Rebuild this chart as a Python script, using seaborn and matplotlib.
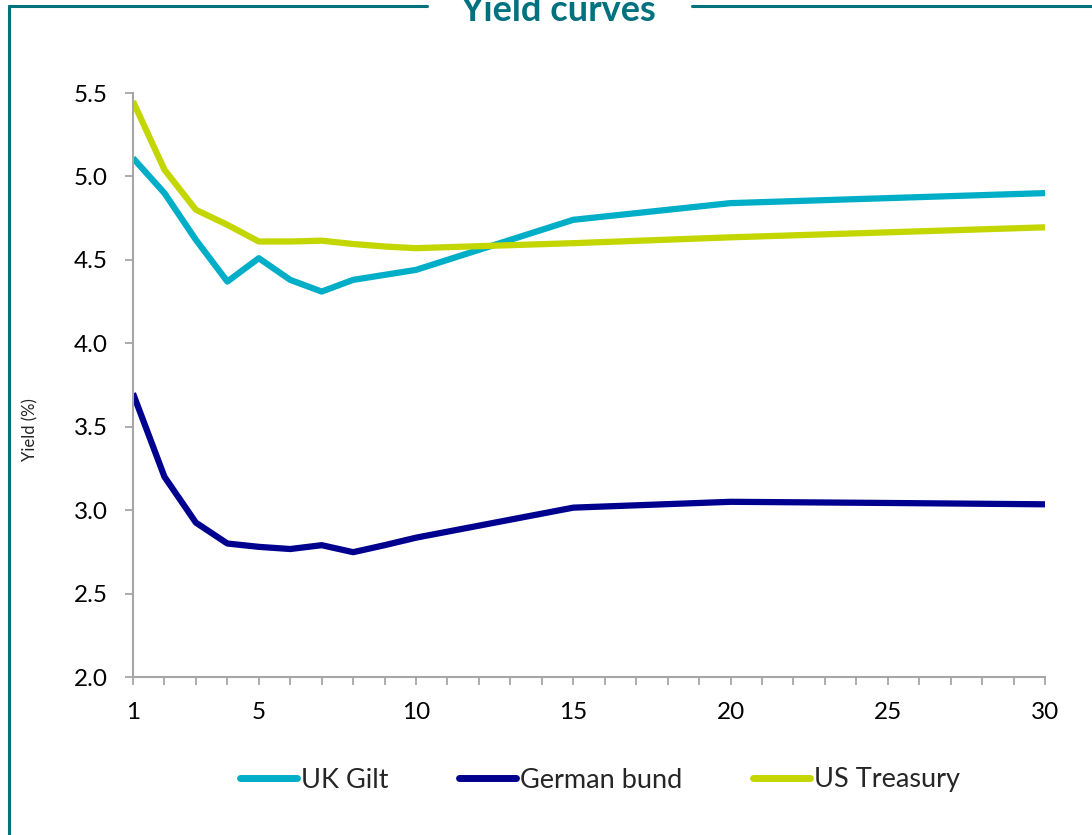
import numpy as np
import pandas as pd
import matplotlib
matplotlib.use("Agg")
import matplotlib.pyplot as plt
from matplotlib.lines import Line2D
import seaborn as sns

# ---- data ----
maturities = [1, 2, 3, 4, 5, 6, 7, 8, 9, 10, 15, 20, 25, 30]
uk_gilt = [5.11, 4.90, 4.62, 4.37, 4.51, 4.38, 4.31, 4.38, 4.41, 4.44, 4.74, 4.84, 4.87, 4.90]
german_bund = [3.70, 3.20, 2.925, 2.80, 2.78, 2.767, 2.79, 2.748, 2.79, 2.835, 3.015, 3.05, 3.043, 3.035]
us_treasury = [5.45, 5.04, 4.80, 4.71, 4.61, 4.61, 4.615, 4.595, 4.58, 4.57, 4.60, 4.635, 4.665, 4.695]
series_names = ["UK Gilt", "German bund", "US Treasury"]
series_colors = ["#00AEC7", "#00008F", "#C4D600"]
x_tick_labels = [1, 5, 10, 15, 20, 25, 30]
y_ticks = [2.0, 2.5, 3.0, 3.5, 4.0, 4.5, 5.0, 5.5]
title = "Yield curves"
y_label = "Yield (%)"

df = pd.concat([
    pd.DataFrame({"Maturity": maturities, "Yield": vals, "Series": name})
    for name, vals in zip(series_names, [uk_gilt, german_bund, us_treasury])
])

sns.set_style("white")
plt.rcParams["font.family"] = ["Lato", "DejaVu Sans"]

W, H = 1092, 835
fig = plt.figure(figsize=(W / 100, H / 100), dpi=100)
ax = fig.add_axes([133 / W, 1 - 677 / H, (1045 - 133) / W, (677 - 93) / H])

sns.lineplot(data=df, x="Maturity", y="Yield", hue="Series",
             palette=dict(zip(series_names, series_colors)),
             linewidth=4.5, ax=ax, legend=False, solid_capstyle="butt")

ax.set_xlim(1, 30)
ax.set_ylim(2.0, 5.5)
ax.set_xticks(list(range(1, 31)))
ax.set_xticklabels([str(i) if i in x_tick_labels else "" for i in range(1, 31)])
ax.set_yticks(y_ticks)
ax.set_yticklabels([f"{v:.1f}" for v in y_ticks])

grey = "#A6A6A6"
for s in ["top", "right"]:
    ax.spines[s].set_visible(False)
for s in ["left", "bottom"]:
    ax.spines[s].set_color(grey)
    ax.spines[s].set_linewidth(1.5)
ax.tick_params(axis="both", direction="out", length=6, width=1.3, color=grey,
               labelsize=17.5, labelcolor="black")
ax.tick_params(axis="y", pad=12, left=True)
ax.tick_params(axis="x", pad=12, bottom=True)
ax.set_xlabel("")
ax.set_ylabel(y_label, fontsize=12)
ax.yaxis.set_label_coords((38 - 133) / 912, (677 - 430) / 584)

handles = [Line2D([0], [0], color=c, lw=5, solid_capstyle="round") for c in series_colors]
fig.legend(handles, series_names, loc="center", bbox_to_anchor=(600 / W, 1 - 780 / H),
           ncol=3, frameon=False, fontsize=19.5, handlelength=2.1, handletextpad=0.15,
           columnspacing=2.6)

# frame with title gap
teal = "#00717F"
fx = 9 / W
fy = 1 - 6 / H
fig.add_artist(Line2D([fx, fx], [fy, -0.05], transform=fig.transFigure, color=teal, lw=2.2))
fig.add_artist(Line2D([fx, 427 / W], [fy, fy], transform=fig.transFigure, color=teal, lw=2.2))
fig.add_artist(Line2D([692 / W, 1.05], [fy, fy], transform=fig.transFigure, color=teal, lw=2.2))
fig.text(558 / W, 1 - 21 / H, title, ha="center", va="baseline", fontsize=26,
         fontweight="bold", color=teal)

fig.savefig("out.png", dpi=100, facecolor="white")
